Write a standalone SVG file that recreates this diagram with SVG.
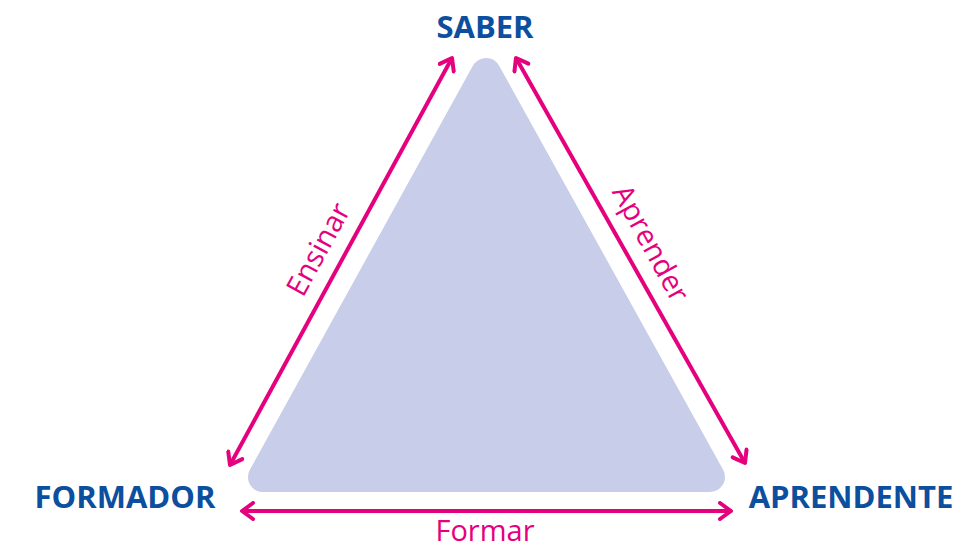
<svg xmlns="http://www.w3.org/2000/svg" width="976" height="547" viewBox="0 0 976 547">
<style>
.node{font-family:"Open Sans","Noto Sans",sans-serif;font-weight:bold;font-size:31px;fill:#0b4f9e;text-anchor:middle}
.lbl{font-family:"Open Sans","Noto Sans",sans-serif;font-size:29px;fill:#e5007d;text-anchor:middle}
.arr{stroke:#e5007d;stroke-width:4;fill:none;marker-start:url(#ah);marker-end:url(#ah)}
</style>
<defs>
<marker id="ah" viewBox="0 0 20 20" refX="17" refY="10" markerWidth="20" markerHeight="20" markerUnits="userSpaceOnUse" orient="auto-start-reverse">
<path d="M6,2 L17,10 L6,18" fill="none" stroke="#e5007d" stroke-width="4" stroke-linecap="round" stroke-linejoin="round"/>
</marker>
</defs>
<rect width="976" height="547" fill="#ffffff"/>
<g id="triangle">
<polygon points="486,73 263,477 710,477" fill="#c8cde9" stroke="#c8cde9" stroke-width="30" stroke-linejoin="round"/>
</g>
<g id="connectors">
<line class="arr" x1="230" y1="465" x2="452" y2="58"/>
<line class="arr" x1="516" y1="58" x2="745" y2="463"/>
<line class="arr" x1="242" y1="511" x2="731" y2="511"/>
<text class="lbl" transform="translate(327,254) rotate(-61.4)">Ensinar</text>
<text class="lbl" transform="translate(642,248) rotate(61.4)">Aprender</text>
<text class="lbl" x="485" y="541">Formar</text>
</g>
<g id="saber"><text class="node" x="485" y="38">SABER</text></g>
<g id="formador"><text class="node" x="125" y="508">FORMADOR</text></g>
<g id="aprendente"><text class="node" x="851" y="508">APRENDENTE</text></g>
</svg>
